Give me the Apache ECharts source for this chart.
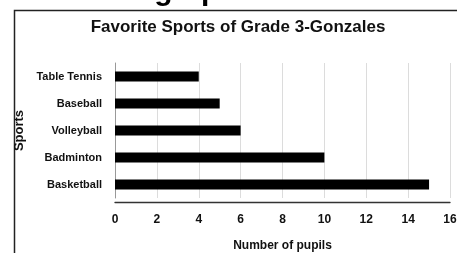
<!DOCTYPE html>
<html lang="en">
<head>
    <meta charset="UTF-8">
    <title>Favorite Sports of Grade 3-Gonzales</title>
    <script src="https://cdn.jsdelivr.net/npm/echarts@6/dist/echarts.min.js"></script>
    <style>
        html, body { margin: 0; padding: 0; background: #fff; }
        #graph { width: 457px; height: 253px; }
    </style>
</head>
<body>
<div id="graph"></div>
<script>
    var sports = ['Basketball', 'Badminton', 'Volleyball', 'Baseball', 'Table Tennis'];
    var pupils = [15, 10, 6, 5, 4];
    var tickLabels = ['0', '2', '4', '6', '8', '10', '12', '14', '16'];

    var font = 'Liberation Sans, Arial, sans-serif';
    var myChart = echarts.init(document.getElementById('graph'));

    var option = {
        animation: false,
        title: {
            text: 'Favorite Sports of Grade 3-Gonzales',
            left: 233,
            textAlign: 'center',
            top: 14,
            textStyle: { fontFamily: font, fontWeight: 'bold', fontSize: 17, color: '#111' }
        },
        graphic: [
            {   // page heading, cut off at the top
                type: 'text',
                x: 246, y: -23,
                style: { text: 'Horizontal bar graph.', align: 'right', font: 'bold 30px Liberation Sans', fill: '#000' }
            },
            {   // frame
                type: 'rect',
                shape: { x: 14.5, y: 10.5, width: 500, height: 300 },
                style: { fill: 'none', stroke: '#222', lineWidth: 1.5 }
            }
        ],
        grid: { left: 115, right: 7, top: 63, bottom: 55, containLabel: false, outerBoundsMode: 'none' },
        xAxis: {
            type: 'value',
            min: 0, max: 16, interval: 2,
            offset: 4,
            name: 'Number of pupils',
            nameLocation: 'middle',
            nameGap: 38,
            nameTextStyle: { fontFamily: font, fontWeight: 'bold', fontSize: 12, color: '#111' },
            axisLine: { show: true, lineStyle: { color: '#333', width: 1.3 } },
            axisTick: { show: false },
            axisLabel: {
                margin: 12, fontFamily: font, fontWeight: 'bold', fontSize: 12, color: '#111',
                formatter: function (v) { return tickLabels[v / 2]; }
            },
            splitLine: { show: true, lineStyle: { color: '#dcdcdc', width: 1 } }
        },
        yAxis: {
            type: 'category',
            data: sports,
            name: 'Sports',
            nameLocation: 'middle',
            nameGap: 85,
            nameRotate: 90,
            nameTextStyle: { fontFamily: font, fontWeight: 'bold', fontSize: 13, color: '#111' },
            axisLine: { show: true, lineStyle: { color: '#999', width: 1 } },
            axisTick: { show: false },
            axisLabel: { margin: 13, fontFamily: font, fontWeight: 'bold', fontSize: 11, color: '#111' }
        },
        series: [{
            type: 'bar',
            data: pupils,
            barWidth: 10,
            itemStyle: { color: '#000' }
        }]
    };

    myChart.setOption(option);
</script>
</body>
</html>
